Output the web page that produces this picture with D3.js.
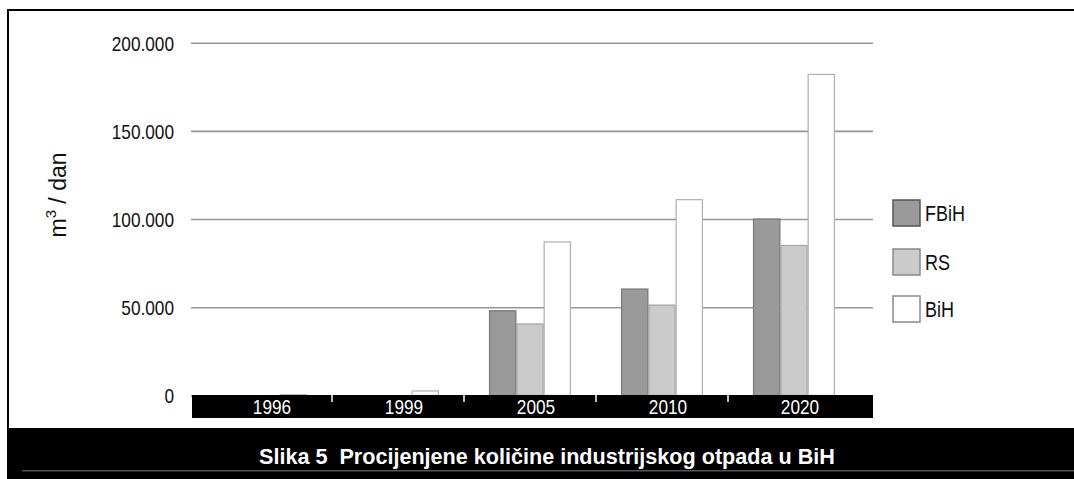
<!DOCTYPE html>
<html>
<head>
<meta charset="utf-8">
<script src="https://cdn.jsdelivr.net/npm/d3@7"></script>
<style>
  html, body { margin: 0; padding: 0; background: #fff; }
  svg { display: block; }
  text { font-family: "Liberation Sans", Arial, sans-serif; }
</style>
</head>
<body>
<svg id="chart" width="1074" height="479"></svg>
<script>
const categories = ["1996", "1999", "2005", "2010", "2020"];
const seriesNames = ["FBiH", "RS", "BiH"];
const fbih = [0, 0, 48000, 60300, 100000];
const rs   = [0, 0, 40500, 51200, 85000];
const bih  = [400, 2500, 87000, 111000, 182000];
const yTicks = [0, 50000, 100000, 150000, 200000];
const titleText = "Slika 5  Procijenjene količine industrijskog otpada u BiH";
const yLabelMain = "m";
const yLabelSup = "3";
const yLabelRest = " / dan";

const seriesValues = [fbih, rs, bih];
const fills   = ["#9a9a9a", "#cbcbcb", "#ffffff"];
const strokes = ["#7a7a7a", "#a8a8a8", "#b4b4b4"];
const legendStrokes = ["#555555", "#8a8a8a", "#8a8a8a"];
const NARROW = 0.82;

const svg = d3.select("#chart");
const W = 1074, H = 479;
const plotL = 191, plotR = 873;

function narrowAt(sel, tx, ty) {
  sel.attr("x", 0).attr("y", 0)
     .attr("transform", (d, i) => {
       const X = typeof tx === "function" ? tx(d, i) : tx;
       const Y = typeof ty === "function" ? ty(d, i) : ty;
       return `translate(${X},${Y}) scale(${NARROW},1)`;
     });
  return sel;
}

// frame
svg.append("rect").attr("x", 0).attr("y", 0).attr("width", W).attr("height", H).attr("fill", "#fff");
svg.append("rect").attr("x", 7).attr("y", 9).attr("width", W - 7).attr("height", 2).attr("fill", "#000");
svg.append("rect").attr("x", 7).attr("y", 9).attr("width", 2).attr("height", 420).attr("fill", "#000");

const y = d3.scaleLinear().domain([0, 200000]).range([395.4, 42.7]);
const x = d3.scaleBand().domain(categories).range([200, 860]).paddingInner(0.38).paddingOuter(0.19);
const xs = d3.scaleBand().domain(seriesNames).range([0, x.bandwidth()]);

const loc = d3.formatLocale({ decimal: ",", thousands: ".", grouping: [3], currency: ["", ""] });
const fmt = loc.format(",d");

// gridlines + y labels
const yAxis = d3.axisLeft(y).tickValues(yTicks).tickFormat(fmt)
  .tickSize(-(plotR - plotL)).tickPadding(17);
const gy = svg.append("g").attr("transform", `translate(${plotL},0)`).call(yAxis);
gy.select(".domain").remove();
gy.selectAll(".tick line").attr("stroke", "#969696").attr("stroke-width", 1.6);
gy.attr("font-family", null);
narrowAt(gy.selectAll(".tick text"), -17, 0)
  .attr("font-family", "'Liberation Sans', Arial, sans-serif")
  .attr("font-size", 21).attr("fill", "#111").attr("dy", "0.35em");

// bars
const rows = categories.map((c, i) => ({ cat: c, vals: seriesNames.map((s, j) => ({ s, j, v: seriesValues[j][i] })) }));
const groups = svg.append("g").selectAll("g").data(rows).join("g")
  .attr("transform", d => `translate(${x(d.cat)},0)`);
groups.selectAll("rect").data(d => d.vals.filter(e => e.v > 0)).join("rect")
  .attr("x", d => xs(d.s) + 0.5)
  .attr("width", xs.bandwidth() - 1)
  .attr("y", d => y(d.v))
  .attr("height", d => y(0) - y(d.v))
  .attr("fill", d => fills[d.j])
  .attr("stroke", d => strokes[d.j])
  .attr("stroke-width", 1.3);

// black category band
const bandTop = 395, bandH = 23;
svg.append("rect").attr("x", plotL + 1).attr("y", bandTop).attr("width", plotR - plotL - 1).attr("height", bandH).attr("fill", "#000");
const seps = categories.slice(1).map(c => x(c) - x.step() * x.paddingInner() / 2);
svg.append("g").selectAll("line").data(seps).join("line")
  .attr("x1", d => d).attr("x2", d => d)
  .attr("y1", bandTop).attr("y2", bandTop + 7)
  .attr("stroke", "#fff").attr("stroke-width", 1.5);
narrowAt(svg.append("g").selectAll("text").data(categories).join("text"),
    d => x(d) + x.bandwidth() / 2 + 6, bandTop + 19)
  .attr("text-anchor", "middle")
  .attr("font-size", 21)
  .attr("fill", "#fff")
  .text(d => d);

// y axis title
const yt = svg.append("text")
  .attr("transform", "translate(66,195) rotate(-90)")
  .attr("text-anchor", "middle")
  .attr("font-size", 23)
  .attr("fill", "#111");
yt.append("tspan").text(yLabelMain);
yt.append("tspan").attr("dy", -10).attr("font-size", 15).text(yLabelSup);
yt.append("tspan").attr("dy", 10).text(yLabelRest);

// legend
const legY = [200, 249, 296];
const leg = svg.append("g").selectAll("g").data(seriesNames).join("g")
  .attr("transform", (d, i) => `translate(893,${legY[i]})`);
leg.append("rect").attr("width", 27).attr("height", 26)
  .attr("fill", (d, i) => fills[i]).attr("stroke", (d, i) => legendStrokes[i]).attr("stroke-width", 1.5);
narrowAt(leg.append("text"), 32, 21)
  .attr("font-size", 22).attr("fill", "#111").text(d => d);

// footer
svg.append("rect").attr("x", 7).attr("y", 428).attr("width", W - 7).attr("height", H - 428).attr("fill", "#000");
svg.append("rect").attr("x", 22).attr("y", 470).attr("width", W - 22).attr("height", 1.5).attr("fill", "#555");
const tt = svg.append("text")
  .attr("font-size", 22.5).attr("font-weight", "bold")
  .attr("fill", "#fff")
  .attr("xml:space", "preserve")
  .style("white-space", "pre")
  .text(titleText);
const tw = tt.node().getComputedTextLength();
const sx = 576 / tw;
tt.attr("transform", `translate(259,464) scale(${sx},1)`);
</script>
</body>
</html>
